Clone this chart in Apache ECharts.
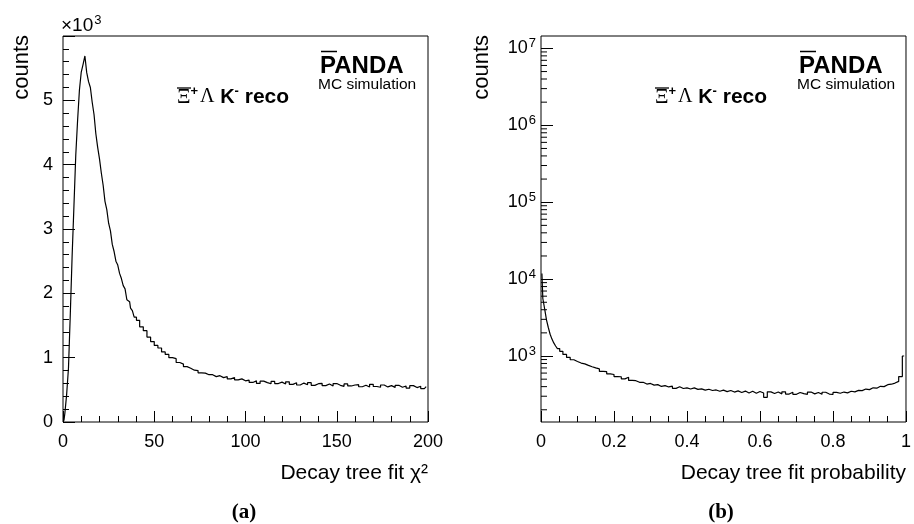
<!DOCTYPE html>
<html>
<head>
<meta charset="utf-8">
<script src="https://cdn.jsdelivr.net/npm/echarts@6/dist/echarts.min.js"></script>
<style>
  html, body { margin: 0; padding: 0; background: #fff; }
  #chart { width: 914px; height: 524px; }
</style>
</head>
<body>
<div id="chart"></div>
<script>
// (a) chi2 histogram: bin centres and counts
var chiX = [];
var chiCounts = [
  20, 130, 430, 840, 1680, 2580, 3360, 4150, 4690, 5160,
  5440, 5560, 5690, 5430, 5290, 5200, 4970, 4780, 4480, 4270,
  4090, 3870, 3680, 3430, 3300, 3090, 2970, 2760, 2650, 2500,
  2440, 2310, 2230, 2120, 2070, 1900, 1870, 1770, 1730, 1630,
  1580, 1480, 1420, 1320, 1250, 1190, 1150, 1090, 1050, 1000,
  985, 925, 900, 860, 835, 805, 800, 765, 760, 735,
  735, 705, 720, 690, 705, 670, 690, 655, 670, 640,
  650, 615, 640, 600, 635, 612, 595, 630, 598, 620,
  590, 625, 585, 610, 575, 605, 580, 612, 570, 595,
  600, 565, 590, 560, 598, 570, 555, 592, 560, 575,
  580, 548, 572, 545, 585, 552, 540, 575, 545, 565,
  538, 570, 540, 560, 528, 565, 535, 555, 520, 550
];
// width 1 bins up to 40, width 2 bins after
for (var i = 0; i < 40; i++) chiX.push(i + 0.5);
for (var j = 41; j < 200; j += 2) chiX.push(j);

// (b) probability histogram
var probX = [];
var probCounts = [
  11800, 5600, 4100, 2950, 2350, 1920, 1660, 1480, 1350, 1250,
  1150, 1050, 960, 895, 850, 810, 790, 755, 725, 700,
  680, 630, 625, 585, 575, 540, 538, 505, 530, 482,
  478, 455, 455, 432, 440, 418, 425, 402, 412, 396,
  405, 380, 398, 378, 386, 372, 385, 368, 374, 360,
  370, 356, 362, 348, 360, 344, 356, 340, 352, 336,
  350, 330, 348, 328, 345, 330, 290, 342, 326, 340,
  322, 342, 320, 338, 318, 336, 324, 318, 340, 322,
  336, 318, 338, 320, 316, 336, 328, 340, 332, 348,
  342, 358, 355, 372, 366, 386, 382, 404, 400, 424,
  430, 445, 468, 540, 1000
];
for (var k = 0; k < 10; k++) probX.push(+(0.0025 + k * 0.005).toFixed(4));
for (var m = 0; m < 95; m++) probX.push(+(0.055 + m * 0.01).toFixed(3));

var logMin = 138.7, logMax = 1.45e7;
var logMinor = [];
for (var e = 2; e <= 7; e++) {
  for (var d = 2; d <= 9; d++) {
    var v = d * Math.pow(10, e);
    if (v > logMin && v < logMax) logMinor.push([0, v]);
  }
}

var SANS = 'Liberation Sans, Arial, sans-serif';
var SERIF = 'Liberation Serif, Times New Roman, serif';

function tickStyle(len) {
  return { show: true, inside: true, length: len, lineStyle: { color: '#000', width: 1 } };
}
function labelStyle(margin) {
  return { color: '#000', fontSize: 18, fontFamily: SANS, margin: margin };
}

var chart = echarts.init(document.getElementById('chart'));

function recoText(x) {
  return {
    type: 'text', left: x, top: 85,
    style: {
      text: '{xi|Ξ}{sp|+}{lam|Λ}{k| K}{sp|-}{r| reco}',
      rich: {
        xi: { fontFamily: SERIF, fontSize: 21, fill: '#000' },
        lam: { fontFamily: SERIF, fontSize: 20, fill: '#000', padding: [0, 0, 0, 2] },
        sp: { fontFamily: SANS, fontSize: 13, fontWeight: 'bold', fill: '#000', padding: [0, 0, 11, 0] },
        k: { fontFamily: SANS, fontSize: 20, fontWeight: 'bold', fill: '#000' },
        r: { fontFamily: SANS, fontSize: 21, fontWeight: 'bold', fill: '#000' }
      }
    }
  };
}

function pandaLabel(x) {
  return [
    { type: 'text', left: x, top: 54, style: { text: 'PANDA', font: 'bold 24px ' + SANS, fill: '#000' } },
    { type: 'line', shape: { x1: x + 1, y1: 51.5, x2: x + 17, y2: 51.5 }, style: { stroke: '#000', lineWidth: 1.5 } },
    { type: 'text', left: x - 2, top: 77, style: { text: 'MC simulation', font: '15.5px ' + SANS, fill: '#000' } }
  ];
}

var graphics = [
  { type: 'text', x: 22, y: 35, rotation: Math.PI / 2,
    style: { text: 'counts', font: '22px ' + SANS, fill: '#000', align: 'right', verticalAlign: 'middle' } },
  { type: 'text', x: 482, y: 35, rotation: Math.PI / 2,
    style: { text: 'counts', font: '22px ' + SANS, fill: '#000', align: 'right', verticalAlign: 'middle' } },
  { type: 'text', left: 61, top: 14,
    style: { text: '{b|×10}{s|3}', rich: {
      b: { fontFamily: SANS, fontSize: 19, fill: '#000' },
      s: { fontFamily: SANS, fontSize: 13, fill: '#000', padding: [0, 0, 10, 1] } } } },
  { type: 'text', x: 428, y: 473,
    style: { text: 'Decay tree fit χ²', font: '21px ' + SANS, fill: '#000', align: 'right', verticalAlign: 'middle' } },
  { type: 'text', x: 906, y: 473,
    style: { text: 'Decay tree fit probability', font: '21px ' + SANS, fill: '#000', align: 'right', verticalAlign: 'middle' } },
  { type: 'text', x: 244, y: 513,
    style: { text: '(a)', font: 'bold 21px ' + SERIF, fill: '#000', align: 'center', verticalAlign: 'middle' } },
  { type: 'text', x: 721, y: 513,
    style: { text: '(b)', font: 'bold 21px ' + SERIF, fill: '#000', align: 'center', verticalAlign: 'middle' } },
  recoText(177),
  { type: 'line', shape: { x1: 177, y1: 88, x2: 191, y2: 88 }, style: { stroke: '#000', lineWidth: 1.3 } },
  recoText(655),
  { type: 'line', shape: { x1: 655, y1: 88, x2: 669, y2: 88 }, style: { stroke: '#000', lineWidth: 1.3 } }
].concat(pandaLabel(320), pandaLabel(799));

chart.setOption({
  animation: false,
  backgroundColor: '#fff',
  grid: [
    { left: 63, top: 36, width: 365, height: 386, show: true, borderColor: '#000', borderWidth: 1 },
    { left: 541, top: 36, width: 365, height: 386, show: true, borderColor: '#000', borderWidth: 1 }
  ],
  xAxis: [
    {
      type: 'value', gridIndex: 0, min: 0, max: 200, interval: 50,
      axisLine: { show: false },
      axisTick: tickStyle(11),
      minorTick: { show: true, splitNumber: 5, length: 6, lineStyle: { color: '#000' } },
      splitLine: { show: false },
      axisLabel: labelStyle(11)
    },
    {
      type: 'value', gridIndex: 1, min: 0, max: 1, interval: 0.2,
      axisLine: { show: false },
      axisTick: tickStyle(11),
      minorTick: { show: true, splitNumber: 4, length: 6, lineStyle: { color: '#000' } },
      splitLine: { show: false },
      axisLabel: labelStyle(11)
    }
  ],
  yAxis: [
    {
      type: 'value', gridIndex: 0, min: 0, max: 6000, interval: 1000,
      axisLine: { show: false },
      axisTick: tickStyle(12),
      minorTick: { show: true, splitNumber: 5, length: 6, lineStyle: { color: '#000' } },
      splitLine: { show: false },
      axisLabel: Object.assign(labelStyle(10), {
        showMaxLabel: false,
        formatter: function (v) { return v / 1000; }
      })
    },
    {
      type: 'log', logBase: 10, gridIndex: 1, min: logMin, max: logMax,
      axisLine: { show: false },
      axisTick: tickStyle(12),
      splitLine: { show: false },
      axisLabel: {
        color: '#000', margin: 5, showMinLabel: false, showMaxLabel: false,
        formatter: function (v) {
          var p = Math.round(Math.log10(v));
          if (Math.abs(Math.log10(v) - p) > 0.01) return '';
          return '{b|10}{s|' + p + '}';
        },
        rich: {
          b: { fontFamily: SANS, fontSize: 18, color: '#000' },
          s: { fontFamily: SANS, fontSize: 13, color: '#000', padding: [0, 0, 10, 1] }
        }
      }
    }
  ],
  series: [
    {
      type: 'line', xAxisIndex: 0, yAxisIndex: 0, step: 'middle', showSymbol: false,
      data: chiX.map(function (x, i) { return [x, chiCounts[i]]; }),
      lineStyle: { color: '#000', width: 1.2 }
    },
    {
      type: 'line', xAxisIndex: 1, yAxisIndex: 1, step: 'middle', showSymbol: false,
      data: probX.map(function (x, i) { return [x, probCounts[i]]; }),
      lineStyle: { color: '#000', width: 1.2 }
    },
    {
      type: 'custom', xAxisIndex: 1, yAxisIndex: 1, silent: true,
      data: logMinor,
      renderItem: function (params, api) {
        var p = api.coord([api.value(0), api.value(1)]);
        return {
          type: 'line',
          shape: { x1: p[0], y1: p[1], x2: p[0] + 6, y2: p[1] },
          style: { stroke: '#000', lineWidth: 1 }
        };
      }
    }
  ],
  graphic: graphics
});
</script>
</body>
</html>
